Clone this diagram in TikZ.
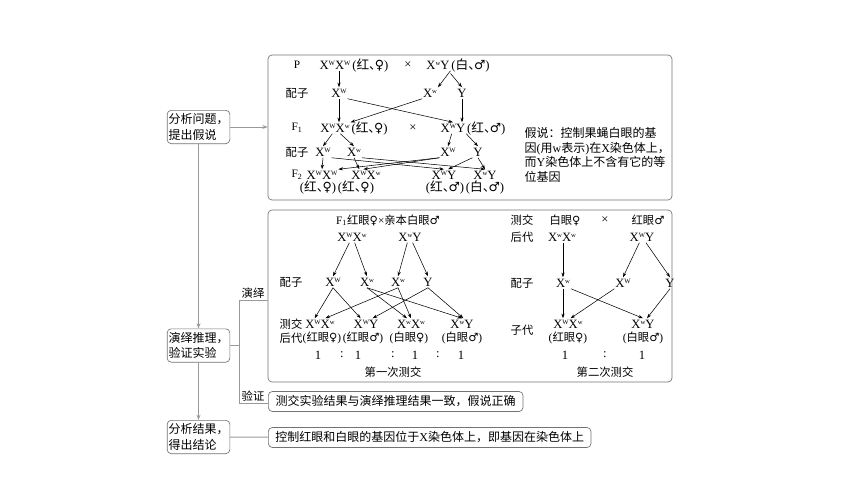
\documentclass[tikz,border=0pt]{standalone}
\usepackage{fontspec}
\setmainfont{Liberation Serif}
\newfontfamily\cjk{Noto Sans CJK SC}
\newfontfamily\sym{DejaVu Sans}
\usetikzlibrary{arrows.meta,positioning,fit,calc}
\newcommand{\zh}[1]{{\cjk #1}}
\newcommand{\sups}[1]{\raisebox{0.6ex}{\fontsize{5}{5}\selectfont #1}}
\newcommand{\XW}{X\sups{W}}
\newcommand{\Xw}{X\sups{w}}
\newcommand{\fe}{{\sym ♀}}
\newcommand{\ma}{{\sym ♂}}
\newcommand{\dun}{\makebox[0.45em][l]{\cjk 、}}
\tikzset{
  frame/.style={draw=black!55, rounded corners=3pt, line width=0.5pt, inner sep=0pt},
  stepbox/.style={frame, align=left, font=\fontsize{9}{11.5}\selectfont, minimum width=47pt, minimum height=25pt},
  notebox/.style={frame, anchor=west, font=\fontsize{9}{11}\selectfont, minimum height=15pt, inner xsep=3pt},
  gt/.style={inner xsep=0.5pt, inner ysep=1pt, font=\fontsize{9.5}{10}\selectfont},
  lbl/.style={inner sep=1pt, font=\fontsize{8.5}{10}\selectfont},
  line/.style={-{Stealth[length=3.5pt,width=2.4pt]}, line width=0.4pt},
  link/.style={draw=black!40, line width=0.7pt},
  linkarrow/.style={link, -{Stealth[length=4pt,width=3pt]}}
}
\begin{document}
\begin{tikzpicture}[x=0.75pt,y=-0.75pt]
  \useasboundingbox (0,0) rectangle (860,483);

  \node[stepbox] (q1) at (198.5,127) {\zh{分析问题，}\\\zh{提出假说}};
  \node[stepbox] (q2) at (198.5,345.5) {\zh{演绎推理，}\\\zh{验证实验}};
  \node[stepbox] (q3) at (198.5,437) {\zh{分析结果，}\\\zh{得出结论}};

  \node[frame, fit={(268,55) (672,200)}] (hypo) {};
  \node[frame, fit={(268,210) (672,382)}] (dedu) {};
  \node[notebox, minimum width=191pt] (chk) at (268,401.5) {\zh{测交实验结果与演绎推理结果一致，假说正确}};
  \node[notebox, minimum width=242pt] (res) at (268,437.5) {\zh{控制红眼和白眼的基因位于}X\zh{染色体上，即基因在染色体上}};

  \draw[linkarrow] (q1.east) -- (q1.east -| hypo.west);
  \draw[linkarrow] (q1) -- (q2);
  \draw[linkarrow] (q2) -- (q3);
  \draw[link] (q3) -- (res);
  \coordinate (bt) at (239,300);
  \coordinate (bb) at (239,403);
  \draw[link] (q2.east) -- (q2.east -| bt);
  \draw[link] (bt -| dedu.west) -- (bt) -- (bb) -- (bb -| chk.west);
  \node[lbl, anchor=south] (dlbl) at (253,300) {\zh{演绎}};
  \node[lbl, anchor=south] (vlbl) at (253,403) {\zh{验证}};

  \node[lbl] (pl) at (297,65) {P};
  \node[gt] (pfg) at (335,65) {\XW\XW};
  \node[gt, base right=0pt of pfg] (pfp) {(\zh{红}\dun\fe)};
  \node[gt] (px) at (408,65) {×};
  \node[gt] (pmg) at (438,65) {\Xw Y};
  \node[gt, base right=0pt of pmg] (pmp) {(\zh{白}\dun\ma)};
  \node[lbl] (g1l) at (297,93) {\zh{配子}};
  \node[gt] (g1a) at (339,93) {\XW};
  \node[gt] (g1b) at (430,93) {\Xw};
  \node[gt] (g1c) at (462,93) {Y};
  \node[lbl] (f1l) at (297,128) {F\textsubscript{1}};
  \node[gt] (f1fg) at (335,128) {\XW\Xw};
  \node[gt, base right=0pt of f1fg] (f1fp) {(\zh{红}\dun\fe)};
  \node[gt] (f1x) at (413,128) {×};
  \node[gt] (f1mg) at (453,128) {\XW Y};
  \node[gt, base right=0pt of f1mg] (f1mp) {(\zh{红}\dun\ma)};
  \node[lbl] (g2l) at (297,152) {\zh{配子}};
  \node[gt] (g2a) at (323,152) {\XW};
  \node[gt] (g2b) at (354,152) {\Xw};
  \node[gt] (g2c) at (448,152) {\XW};
  \node[gt] (g2d) at (478,152) {Y};
  \node[lbl] (f2l) at (297,175) {F\textsubscript{2}};
  \node[gt] (f2a) at (322,175) {\XW\XW};
  \node[gt] (f2b) at (366,175) {\XW\Xw};
  \node[gt] (f2c) at (444,175) {\XW Y};
  \node[gt] (f2d) at (485,175) {\Xw Y};
  \node[gt] (f2pa) at (318,188) {(\zh{红}\dun\fe)};
  \node[gt, base right=0pt of f2pa] (f2pb) {(\zh{红}\dun\fe)};
  \node[gt] (f2pc) at (445,188) {(\zh{红}\dun\ma)};
  \node[gt, base right=0pt of f2pc] (f2pd) {(\zh{白}\dun\ma)};
  \node[lbl, anchor=west, align=left, font=\fontsize{9}{11}\selectfont] (note) at (523,155)
    {\zh{假说：控制果蝇白眼的基}\\\zh{因}(\zh{用}w\zh{表示})\zh{在}X\zh{染色体上，}\\\zh{而}Y\zh{染色体上不含有它的等}\\\zh{位基因}};

  \draw[line] (g1a.north |- pfg.south) -- (g1a.north);
  \draw[line] (pmg.south east) -- (g1b.north east);
  \draw[line] (pmp.south west) -- (g1c.north);
  \draw[line] (g1a.south) -- (g1a.south |- f1fg.north);
  \draw[line] (g1a.south east) -- (f1mg.north);
  \draw[line] (g1b.south west) -- (f1fg.north east);
  \draw[line] (g1c.south) -- (g1c.south |- f1mg.north);
  \draw[line] ([xshift=-2pt]f1fg.south) -- (g2a.north);
  \draw[line] ([xshift=4pt]f1fg.south) -- (g2b.north);
  \draw[line] ([xshift=-1pt]f1mg.south) -- (g2c.north);
  \draw[line] (f1mg.south east) -- (g2d.north);
  \draw[line] (g2a.south) -- (f2a.north);
  \draw[line] (g2a.south east) -- (f2c.north);
  \draw[line] (g2b.south) -- ([xshift=-5pt]f2b.north);
  \draw[line] (g2b.south east) -- (f2d.north);
  \draw[line] (g2c.south west) -- (f2a.north east);
  \draw[line] (g2c.south west) -- ([xshift=-2pt]f2b.north);
  \draw[line] (g2d.south west) -- ([xshift=3pt]f2c.north);
  \draw[line] (g2d.south) -- (f2d.north);

  \node[lbl] (mt) at (388,220) {F\textsubscript{1}\zh{红眼}\fe{}×\zh{亲本白眼}\ma};
  \node[gt] (mfg) at (352,237) {\XW\Xw};
  \node[gt] (mmg) at (410,237) {\Xw Y};
  \node[lbl] (mgl) at (291,282) {\zh{配子}};
  \node[gt] (mga) at (333,282) {\XW};
  \node[gt] (mgb) at (367,282) {\Xw};
  \node[gt] (mgc) at (398,282) {\Xw};
  \node[gt] (mgd) at (428,282) {Y};
  \node[lbl] (mol) at (291,324) {\zh{测交}};
  \node[lbl] (mpl) at (291,338) {\zh{后代}};
  \node[gt] (moa) at (320,324) {\XW\Xw};
  \node[gt] (mob) at (366,324) {\XW Y};
  \node[gt] (moc) at (411,324) {\Xw\Xw};
  \node[gt] (mod) at (462,324) {\Xw Y};
  \node[lbl] (mpa) at (322,338) {(\zh{红眼}\fe)};
  \node[lbl] (mpb) at (363,338) {(\zh{红眼}\ma)};
  \node[lbl] (mpc) at (409,338) {(\zh{白眼}\fe)};
  \node[lbl] (mpd) at (462,338) {(\zh{白眼}\ma)};
  \node[gt] (mr1) at (318,355) {1};
  \node[gt] (mc1) at (342,355) {:};
  \node[gt] (mr2) at (358,355) {1};
  \node[gt] (mc2) at (393,355) {:};
  \node[gt] (mr3) at (415,355) {1};
  \node[gt] (mc3) at (438,355) {:};
  \node[gt] (mr4) at (461,355) {1};
  \node[lbl] (mcap) at (393,372) {\zh{第一次测交}};

  \draw[line] ([xshift=-2pt]mfg.south) -- (mga.north);
  \draw[line] ([xshift=2pt]mfg.south) -- (mgb.north);
  \draw[line] ([xshift=-2pt]mmg.south) -- (mgc.north);
  \draw[line] ([xshift=2pt]mmg.south) -- (mgd.north);
  \draw[line] (mga.south) -- ([xshift=-4pt]moa.north);
  \draw[line] (mga.south) -- ([xshift=-4pt]mob.north);
  \draw[line] (mgb.south) -- ([xshift=-3pt]moc.north);
  \draw[line] (mgb.south) -- (mod.north);
  \draw[line] (mgc.south) -- ([xshift=4pt]moa.north);
  \draw[line] (mgc.south) -- (moc.north);
  \draw[line] (mgd.south) -- ([xshift=5pt]mob.north);
  \draw[line] (mgd.south) -- ([xshift=1pt]mod.north);

  \node[lbl] (sl1) at (522,220) {\zh{测交}};
  \node[lbl] (sl2) at (522,237) {\zh{后代}};
  \node[lbl] (sfl) at (565,220) {\zh{白眼}\fe};
  \node[gt] (sx) at (605,220) {×};
  \node[lbl] (sml) at (648,220) {\zh{红眼}\ma};
  \node[gt] (sfg) at (562,237) {\Xw\Xw};
  \node[gt] (smg) at (642,237) {\XW Y};
  \node[lbl] (sgl) at (522,283) {\zh{配子}};
  \node[gt] (sga) at (563,283) {\Xw};
  \node[gt] (sgb) at (623,283) {\XW};
  \node[gt] (sgc) at (670,283) {Y};
  \node[lbl] (sol) at (522,330) {\zh{子代}};
  \node[gt] (soa) at (568,324) {\XW\Xw};
  \node[gt] (sob) at (643,324) {\Xw Y};
  \node[lbl] (spa) at (568,338) {(\zh{红眼}\fe)};
  \node[lbl] (spb) at (643,338) {(\zh{白眼}\ma)};
  \node[gt] (sr1) at (565,355) {1};
  \node[gt] (sc1) at (605,355) {:};
  \node[gt] (sr2) at (642,355) {1};
  \node[lbl] (scap) at (605,372) {\zh{第二次测交}};

  \draw[line] (sga.north |- sfg.south) -- (sga.north);
  \draw[line] ([xshift=-2pt]smg.south) -- (sgb.north);
  \draw[line] ([xshift=3pt]smg.south) -- (sgc.north);
  \draw[line] (sga.south) -- (sga.south |- soa.north);
  \draw[line] (sga.south east) -- (sob.north);
  \draw[line] (sgb.south west) -- ([xshift=2pt]soa.north);
  \draw[line] (sgc.south) -- ([xshift=3pt]sob.north);
\end{tikzpicture}
\end{document}
